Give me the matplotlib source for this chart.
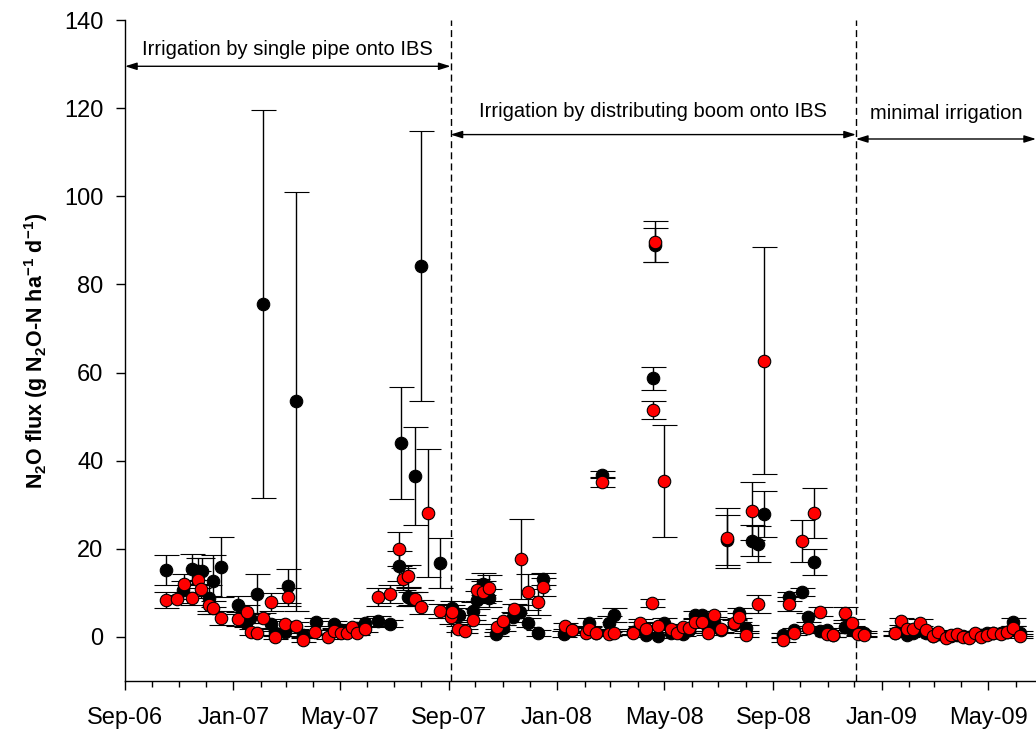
"""N2O flux time series, two treatments, with irrigation periods annotated."""
import matplotlib
matplotlib.use('Agg')
import matplotlib.pyplot as plt
import matplotlib.dates as mdates
import numpy as np
import pandas as pd

START = pd.Timestamp('2006-09-01')

# black series: day since 1 Sep 2006, flux, standard error
black_day = [46, 65, 76, 82, 87, 95, 99, 108, 127, 136, 141, 149, 156, 164, 169, 180,
             184, 193, 201, 215, 236, 244, 262, 271, 285, 299, 309, 311, 319, 321, 327,
             334, 355, 369, 377, 392, 397, 404, 410, 418, 426, 437, 445, 454, 465, 471,
             495, 504, 523, 531, 538, 546, 551, 573, 580, 587, 595, 598, 601, 608, 616,
             629, 636, 643, 651, 657, 664, 672, 679, 686, 692, 700, 707, 714, 720, 742,
             748, 754, 763, 770, 777, 784, 791, 798, 812, 819, 826, 833, 868, 875, 882,
             888, 896, 903, 911, 917, 925, 931, 938, 945, 952, 958, 965, 972, 979, 987,
             994, 1001, 1009]
black_val = [15.2, 10.7, 15.4, 15.0, 15.0, 8.8, 12.7, 15.9, 7.3, 3.2, 4.3, 9.8, 75.6,
             3.0, 1.0, 1.1, 11.6, 53.5, 0.5, 3.4, 2.9, 1.5, 2.0, 3.2, 3.6, 3.0, 16.1,
             44.0, 9.1, 8.8, 36.5, 84.2, 16.8, 6.6, 5.0, 5.9, 8.4, 12.0, 8.8, 0.7, 2.0,
             4.5, 5.7, 3.2, 0.9, 13.2, 0.7, 1.5, 3.2, 1.0, 36.8, 3.2, 5.0, 1.2, 2.5,
             0.5, 58.7, 88.9, 0.2, 3.2, 1.0, 0.7, 1.5, 5.0, 5.0, 2.0, 3.5, 1.5, 22.0,
             3.0, 5.4, 2.0, 21.8, 21.1, 27.9, 0.5, 9.1, 1.5, 10.2, 4.5, 17.0, 1.4, 1.5,
             0.5, 2.3, 1.6, 1.0, 0.8, 0.8, 1.5, 0.5, 1.0, 1.5, 0.8, 0.3, 0.6, 0.0, 0.3,
             0.4, 0.2, 0.1, 0.6, 0.4, 1.0, 0.8, 1.0, 1.2, 3.4, 0.8]
black_se = [3.3, 2.0, 3.5, 3.0, 3.0, 3.0, 6.0, 6.8, 2.0, 1.0, 1.2, 4.5, 44.0, 1.0, 0.8,
            0.8, 3.8, 47.5, 0.5, 1.0, 0.8, 0.8, 0.7, 1.0, 1.2, 0.8, 3.5, 12.8, 2.0, 1.5,
            11.2, 30.7, 5.7, 1.5, 1.5, 2.0, 2.0, 2.5, 2.0, 0.5, 0.7, 1.2, 1.5, 1.0, 0.6,
            1.3, 0.6, 0.6, 1.0, 0.6, 0.8, 1.5, 1.5, 0.6, 0.8, 0.5, 2.6, 3.8, 0.5, 1.0,
            0.6, 0.5, 0.6, 1.0, 1.0, 0.7, 1.0, 0.6, 5.6, 0.8, 1.2, 0.7, 3.5, 4.0, 5.2,
            0.5, 1.0, 0.6, 1.0, 1.0, 3.0, 0.6, 0.6, 0.5, 0.8, 0.6, 0.5, 0.5, 0.5, 0.6,
            0.5, 0.5, 0.6, 0.5, 0.4, 0.4, 0.4, 0.4, 0.4, 0.4, 0.4, 0.4, 0.4, 0.5, 0.5,
            0.5, 0.5, 1.0, 0.5]

# red series
red_day = [46, 59, 66, 76, 82, 86, 95, 99, 108, 127, 138, 142, 149, 156, 164, 169, 180,
           184, 193, 201, 214, 229, 236, 244, 250, 256, 262, 271, 285, 299, 309, 313,
           319, 327, 334, 341, 355, 368, 369, 375, 383, 392, 397, 404, 410, 419, 426,
           439, 446, 454, 465, 471, 496, 504, 520, 523, 531, 538, 546, 551, 573, 580,
           587, 594, 595, 598, 601, 608, 616, 622, 629, 636, 643, 651, 657, 664, 672,
           679, 686, 692, 700, 707, 714, 720, 742, 748, 754, 763, 770, 777, 784, 791,
           798, 812, 819, 826, 833, 868, 875, 882, 888, 896, 903, 911, 917, 925, 931,
           938, 945, 952, 958, 965, 972, 979, 987, 994, 1001, 1009]
red_val = [8.4, 8.6, 12.0, 8.8, 13.0, 10.9, 7.3, 6.6, 4.3, 4.1, 5.7, 1.1, 0.9, 4.3, 7.9,
           0.0, 2.9, 9.1, 2.5, -0.7, 1.1, 0.0, 1.4, 0.9, 0.9, 2.3, 0.9, 1.8, 9.1, 9.8,
           20.0, 13.2, 13.8, 8.6, 6.8, 28.1, 5.9, 4.5, 5.7, 1.8, 1.4, 3.9, 10.7, 10.2,
           11.1, 2.3, 3.6, 6.4, 17.7, 10.2, 7.9, 11.3, 2.5, 1.6, 0.9, 1.8, 0.9, 35.2,
           0.7, 0.9, 0.9, 3.2, 1.8, 7.7, 51.5, 89.7, 2.5, 35.4, 1.8, 0.9, 2.3, 2.0, 3.4,
           3.4, 0.9, 5.0, 1.8, 22.5, 3.2, 4.5, 0.5, 28.6, 7.5, 62.7, -0.7, 7.5, 0.9,
           21.8, 2.0, 28.1, 5.7, 0.7, 0.5, 5.4, 3.2, 0.7, 0.5, 0.9, 3.6, 1.8, 1.8, 3.2,
           1.6, 0.2, 1.1, -0.2, 0.5, 0.7, 0.0, -0.2, 0.9, 0.0, 0.5, 0.9, 0.7, 1.1, 2.0,
           0.2]
red_se = [1.8, 1.0, 2.2, 1.5, 2.0, 2.0, 2.0, 1.5, 1.5, 1.5, 1.5, 0.6, 0.5, 1.2, 2.0,
          0.5, 0.8, 2.0, 0.8, 0.5, 0.5, 0.5, 0.5, 0.5, 0.5, 0.6, 0.5, 0.6, 2.0, 2.0,
          3.8, 2.5, 2.5, 1.5, 1.5, 14.5, 1.5, 1.5, 1.5, 0.6, 0.5, 1.0, 2.5, 2.5, 3.0,
          0.6, 0.8, 1.0, 9.0, 4.0, 3.0, 2.0, 0.6, 0.5, 0.5, 0.6, 0.5, 1.2, 0.5, 0.5,
          0.5, 0.8, 0.6, 1.0, 2.0, 4.7, 0.6, 12.7, 0.6, 0.5, 0.6, 0.6, 1.0, 1.0, 0.5,
          1.0, 0.6, 6.8, 0.8, 1.0, 0.5, 6.6, 2.0, 25.8, 0.5, 1.5, 0.5, 4.7, 0.6, 5.7,
          1.0, 0.5, 0.5, 1.5, 0.8, 0.5, 0.5, 0.5, 0.8, 0.6, 0.6, 0.8, 0.5, 0.4, 0.5,
          0.4, 0.4, 0.4, 0.4, 0.4, 0.4, 0.4, 0.4, 0.4, 0.4, 0.5, 0.6, 0.4]

# irrigation period boundaries (days since start) and labels
PERIOD_BREAKS = [367, 824]
PERIOD_LABELS = ['Irrigation by single pipe onto IBS',
                 'Irrigation by distributing boom onto IBS',
                 'minimal irrigation']

plt.rcParams['font.family'] = ['Liberation Sans', 'DejaVu Sans']
plt.rcParams['mathtext.fontset'] = 'custom'
plt.rcParams['mathtext.rm'] = 'Liberation Sans'
plt.rcParams['mathtext.bf'] = 'Liberation Sans:bold'


def to_dates(days):
    return START + pd.to_timedelta(np.asarray(days, dtype=float), unit='D')


fig = plt.figure(figsize=(10.36, 7.33), dpi=100)
ax = fig.add_axes([0.1207, 0.0709, 0.8793, 0.9018])

x_end = START + pd.Timedelta(days=1027)
ax.set_xlim(START, x_end)
ax.set_ylim(-10, 140)

common = dict(fmt='o', ms=9, mec='black', mew=0.8, ecolor='black', elinewidth=1,
              capsize=9, capthick=1)
ax.errorbar(to_dates(black_day), black_val, yerr=black_se, mfc='black', zorder=3, **common)
ax.errorbar(to_dates(red_day), red_val, yerr=red_se, mfc='#ff0000', zorder=4, **common)

b1, b2 = (START + pd.Timedelta(days=d) for d in PERIOD_BREAKS)
for b in (b1, b2):
    ax.axvline(b, color='black', lw=1, ls=(0, (5, 3)), zorder=2)

arrow = dict(arrowstyle='<|-|>,head_length=0.7,head_width=0.22', color='black', lw=1,
             shrinkA=0, shrinkB=0)
spans = [(START, b1, 129.5, 133.3), (b1, b2, 114, 119.3), (b2, x_end, 113, 118.7)]
for (xa, xb, ya, yt), lab in zip(spans, PERIOD_LABELS):
    ax.annotate('', xy=(xa, ya), xytext=(xb, ya), arrowprops=arrow,
                annotation_clip=False)
    ax.text(xa + (xb - xa) / 2, yt, lab, ha='center', va='center', fontsize=14.5)

ax.xaxis.set_major_locator(mdates.MonthLocator(bymonth=[1, 5, 9]))
ax.xaxis.set_minor_locator(mdates.MonthLocator())
ax.xaxis.set_major_formatter(mdates.DateFormatter('%b-%y'))
ax.set_yticks(np.arange(0, 141, 20))

ax.tick_params(axis='both', which='major', direction='out', length=6.5, width=1,
               labelsize=17)
ax.tick_params(axis='y', which='major', pad=9)
ax.tick_params(axis='x', which='major', pad=12)
ax.tick_params(axis='x', which='minor', direction='out', length=4, width=1)
ax.spines['top'].set_visible(False)
ax.spines['right'].set_visible(False)
ax.spines['left'].set_linewidth(1)
ax.spines['bottom'].set_linewidth(1)

ax.set_ylabel(r'N$_\mathbf{2}$O flux (g N$_\mathbf{2}$O-N ha$^\mathbf{-1}$ d$^\mathbf{-1}$)',
              fontsize=15.5, fontweight='bold', labelpad=10)

fig.savefig('out.png', dpi=100)
